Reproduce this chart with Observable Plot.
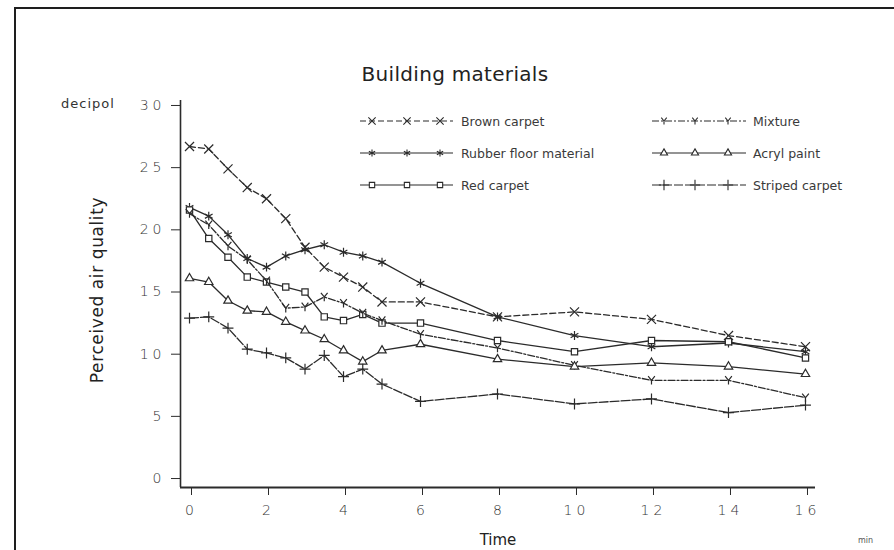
<!DOCTYPE html>
<html><head><meta charset="utf-8">
<script src="https://cdn.jsdelivr.net/npm/d3@7"></script>
<script src="https://cdn.jsdelivr.net/npm/@observablehq/plot@0.6"></script>
<style>
body{margin:0;background:#fff;}
#wrap{position:relative;width:894px;height:550px;overflow:hidden;background:#fff;font-family:"DejaVu Sans",sans-serif;color:#2a2a2a}
#border{position:absolute;left:14px;top:7px;width:882px;height:570px;border:2px solid #1e1e1e;box-sizing:border-box}
#chart{position:absolute;left:0;top:0}
.t{position:absolute;white-space:nowrap}
#title{left:0;width:910px;text-align:center;top:62px;font-size:20px;color:#222;letter-spacing:0.3px}
#unit{left:61px;top:96px;font-size:13px;color:#333;letter-spacing:1px}
#ylab{left:97px;top:290px;font-size:17px;transform:translate(-50%,-50%) rotate(-90deg);color:#222;letter-spacing:0.6px}
#xlab{left:498px;top:540px;transform:translate(-50%,-50%);font-size:15px;color:#222}
#min{left:858px;top:536px;font-size:8px;color:#555}
#legend{position:absolute;left:0;top:0;pointer-events:none}
#chart text{letter-spacing:4px;font-weight:300}
</style></head>
<body><div id="wrap">
<div id="border"></div>
<div id="chart"></div>
<svg id="legend" width="894" height="550"></svg>
<div class="t" id="title">Building materials</div>
<div class="t" id="unit">decipol</div>
<div class="t" id="ylab">Perceived air quality</div>
<div class="t" id="xlab">Time</div>
<div class="t" id="min">min</div>
</div>
<script>
const times = [0, 0.5, 1, 1.5, 2, 2.5, 3, 3.5, 4, 4.5, 5, 6, 8, 10, 12, 14, 16];
const brownCarpet   = [26.7, 26.5, 24.9, 23.4, 22.5, 20.9, 18.6, 17.0, 16.2, 15.4, 14.2, 14.2, 13.0, 13.4, 12.8, 11.5, 10.6];
const rubberFloor   = [21.8, 21.1, 19.6, 17.7, 17.0, 17.9, 18.4, 18.8, 18.2, 17.9, 17.4, 15.7, 13.0, 11.5, 10.6, 10.9, 10.2];
const redCarpet     = [21.6, 19.3, 17.8, 16.2, 15.8, 15.4, 15.0, 13.0, 12.7, 13.2, 12.5, 12.5, 11.1, 10.2, 11.1, 11.0, 9.7];
const mixture       = [21.3, 20.4, 18.7, 17.6, 15.9, 13.7, 13.8, 14.6, 14.1, 13.3, 12.7, 11.6, 10.5, 9.1, 7.9, 7.9, 6.5];
const acrylPaint    = [16.1, 15.8, 14.3, 13.5, 13.4, 12.6, 11.9, 11.2, 10.3, 9.4, 10.3, 10.8, 9.6, 9.0, 9.3, 9.0, 8.4];
const stripedCarpet = [12.9, 13.0, 12.1, 10.4, 10.1, 9.7, 8.8, 9.9, 8.2, 8.8, 7.6, 6.2, 6.8, 6.0, 6.4, 5.3, 5.9];
const seriesNames = ["Brown carpet", "Rubber floor material", "Red carpet", "Mixture", "Acryl paint", "Striped carpet"];
const seriesValues = [brownCarpet, rubberFloor, redCarpet, mixture, acrylPaint, stripedCarpet];
const yTicks = [0, 5, 10, 15, 20, 25, 30];
const xTicks = [0, 2, 4, 6, 8, 10, 12, 14, 16];

// open "Y" marker for Mixture
const wye = {draw(ctx, size) {
  const r = Math.sqrt(size / Math.PI);
  ctx.moveTo(0, 0); ctx.lineTo(0, r);
  ctx.moveTo(0, 0); ctx.lineTo(-r * 0.8, -r);
  ctx.moveTo(0, 0); ctx.lineTo(r * 0.8, -r);
}};
const styles = [
  {symbol: "times", dash: "6,3", r: 4.2, fill: "none"},
  {symbol: "asterisk", dash: null, r: 4.2, fill: "none"},
  {symbol: "square2", dash: null, r: 4.0, fill: "white"},
  {symbol: wye, dash: "7,2,2,2", r: 4.2, fill: "none"},
  {symbol: "triangle2", dash: null, r: 4.0, fill: "white"},
  {symbol: "plus", dash: "9,2", r: 3.6, fill: "none"}
];
const ink = "#2b2b2b";

const marks = [];
seriesNames.forEach((name, k) => {
  const data = times.map((t, i) => ({series: name, t, v: seriesValues[k][i]}));
  const s = styles[k];
  marks.push(Plot.line(data, {x: "t", y: "v", stroke: ink, strokeWidth: 1.3, strokeDasharray: s.dash}));
  marks.push(Plot.dot(data, {x: "t", y: "v", symbol: s.symbol, r: s.r, stroke: ink, strokeWidth: 1.2, fill: s.fill}));
});

const plot = Plot.plot({
  width: 894, height: 550,
  marginLeft: 180, marginRight: 79, marginTop: 100, marginBottom: 63,
  style: {background: "transparent", color: "#333", fontFamily: "DejaVu Sans"},
  x: {domain: [-0.234, 16.26]},
  y: {domain: [-0.72, 30.4]},
  marks: [
    Plot.axisY({ticks: yTicks, tickSize: 9, tickPadding: 6, fontSize: 14, label: null, stroke: ink, fill: "#333"}),
    Plot.axisX({ticks: xTicks, tickSize: 8, tickPadding: 10, fontSize: 14, label: null, stroke: ink, fill: "#333", dx: 2}),
    Plot.ruleX([-0.234], {stroke: ink, strokeWidth: 1.6}),
    Plot.ruleY([-0.72], {stroke: ink, strokeWidth: 1.8}),
    ...marks
  ]
});
document.getElementById("chart").appendChild(plot);

// legend
const lg = d3.select("#legend");
const cols = [{x1: 360, x2: 453, tx: 461, marks: [372, 407, 440]}, {x1: 652, x2: 746, tx: 753, marks: [664, 695, 728]}];
const rowsY = [121, 153, 185];
seriesNames.forEach((name, k) => {
  const c = cols[Math.floor(k / 3)], y = rowsY[k % 3], s = styles[k];
  lg.append("line").attr("x1", c.x1).attr("x2", c.x2).attr("y1", y).attr("y2", y)
    .attr("stroke", ink).attr("stroke-width", 1.2).attr("stroke-dasharray", s.dash);
  const sym = d3.symbol().type(typeof s.symbol === "string" ? {
    times: d3.symbolTimes, asterisk: d3.symbolAsterisk, square2: d3.symbolSquare2,
    triangle2: d3.symbolTriangle2, plus: d3.symbolPlus}[s.symbol] : s.symbol).size(Math.PI * 3.4 * 3.4);
  c.marks.forEach(mx => lg.append("path").attr("d", sym()).attr("transform", `translate(${mx},${y})`)
    .attr("stroke", ink).attr("stroke-width", 1.1).attr("fill", s.fill));
  lg.append("text").attr("x", c.tx).attr("y", y + 4.5).attr("font-family", "DejaVu Sans")
    .attr("font-size", 12.5).attr("fill", "#3a3a3a").text(name);
});
</script>
</body></html>
